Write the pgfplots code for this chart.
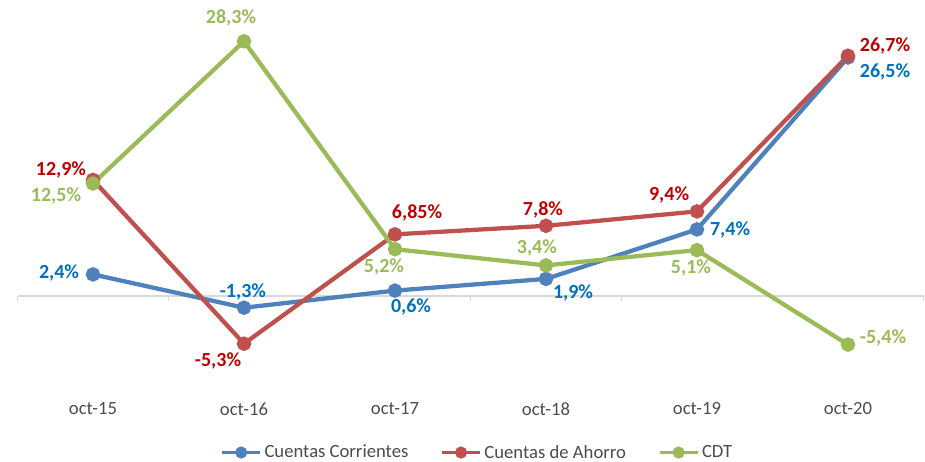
\documentclass[border=0pt]{standalone}
\usepackage{pgfplots}
\pgfplotsset{compat=1.18}
\usepackage{fontspec}
\setmainfont{Carlito}
\definecolor{cblue}{HTML}{4F81BD}
\definecolor{cred}{HTML}{C0504D}
\definecolor{cgreen}{HTML}{9BBB59}
\definecolor{tblue}{HTML}{0070C0}
\definecolor{tred}{HTML}{C00000}
\definecolor{tgreen}{HTML}{9BBB59}
\definecolor{gridc}{HTML}{D9D9D9}
\newcommand{\lbl}[4]{\node[text=#1,font=\bfseries\fontsize{15}{18}\selectfont,inner sep=0pt] at (axis cs:#2,#3) {#4};}
\begin{document}
\begin{tikzpicture}
\begin{axis}[
  scale only axis,
  width=679.5pt, height=283.5pt,
  xmin=-0.5, xmax=5.5, ymin=-10, ymax=32,
  clip=false,
  axis line style={draw=none},
  major tick length=0pt,
  ytick=\empty,
  xtick={0,1,2,3,4,5},
  xticklabels={oct-15,oct-16,oct-17,oct-18,oct-19,oct-20},
  xticklabel style={font=\fontsize{14}{16}\selectfont, text=black!70, yshift=-9pt},
  every axis plot/.append style={line width=3.2pt, mark=*, mark size=3.8pt},
  legend columns=3,
  legend style={draw=none, at={(0.508,-0.176)}, anchor=center,
    font=\fontsize{14}{16}\selectfont, text=black!70,
    /tikz/every even column/.append style={column sep=22pt},
    inner sep=0pt},
  legend image code/.code={\draw[#1, mark repeat=2, mark phase=2, line width=2.6pt, mark size=3.2pt] plot coordinates {(0cm,0cm) (0.5cm,0cm) (1cm,0cm)};},
]
\draw[gridc, line width=0.9pt] (axis cs:-0.5,0) -- (axis cs:5.5,0);
\draw[gridc, line width=0.9pt] (axis cs:-0.5,0) -- ++(0pt,-4pt);
\draw[gridc, line width=0.9pt] (axis cs:0.5,0) -- ++(0pt,-4pt);
\draw[gridc, line width=0.9pt] (axis cs:1.5,0) -- ++(0pt,-4pt);
\draw[gridc, line width=0.9pt] (axis cs:2.5,0) -- ++(0pt,-4pt);
\draw[gridc, line width=0.9pt] (axis cs:3.5,0) -- ++(0pt,-4pt);
\draw[gridc, line width=0.9pt] (axis cs:4.5,0) -- ++(0pt,-4pt);
\draw[gridc, line width=0.9pt] (axis cs:5.5,0) -- ++(0pt,-4pt);
\addplot[color=cblue] coordinates {(0,2.4) (1,-1.3) (2,0.6) (3,1.9) (4,7.4) (5,26.5)};
\addlegendentry{Cuentas Corrientes}
\addplot[color=cred] coordinates {(0,12.9) (1,-5.3) (2,6.85) (3,7.8) (4,9.4) (5,26.7)};
\addlegendentry{Cuentas de Ahorro}
\addplot[color=cgreen] coordinates {(0,12.5) (1,28.3) (2,5.2) (3,3.4) (4,5.1) (5,-5.4)};
\addlegendentry{CDT}
\lbl{tblue}{-0.225}{2.56}{2,4\%}
\lbl{tblue}{0.993}{0.44}{-1,3\%}
\lbl{tblue}{2.106}{-1.22}{0,6\%}
\lbl{tblue}{3.179}{0.33}{1,9\%}
\lbl{tblue}{4.219}{7.33}{7,4\%}
\lbl{tblue}{5.245}{24.9}{26,5\%}
\lbl{tred}{-0.212}{14.0}{12,9\%}
\lbl{tred}{0.828}{-7.22}{-5,3\%}
\lbl{tred}{2.146}{9.22}{6,85\%}
\lbl{tred}{2.98}{9.56}{7,8\%}
\lbl{tred}{3.815}{11.22}{9,4\%}
\lbl{tred}{5.245}{27.78}{26,7\%}
\lbl{tgreen}{-0.245}{11.11}{12,5\%}
\lbl{tgreen}{0.914}{30.9}{28,3\%}
\lbl{tgreen}{1.927}{3.22}{5,2\%}
\lbl{tgreen}{2.94}{5.33}{3,4\%}
\lbl{tgreen}{3.96}{3.11}{5,1\%}
\lbl{tgreen}{5.232}{-4.67}{-5,4\%}
\end{axis}
\pgfresetboundingbox
\path[use as bounding box] (-13.125pt,-56.25pt) rectangle (680.625pt,289.5pt);
\end{tikzpicture}
\end{document}
